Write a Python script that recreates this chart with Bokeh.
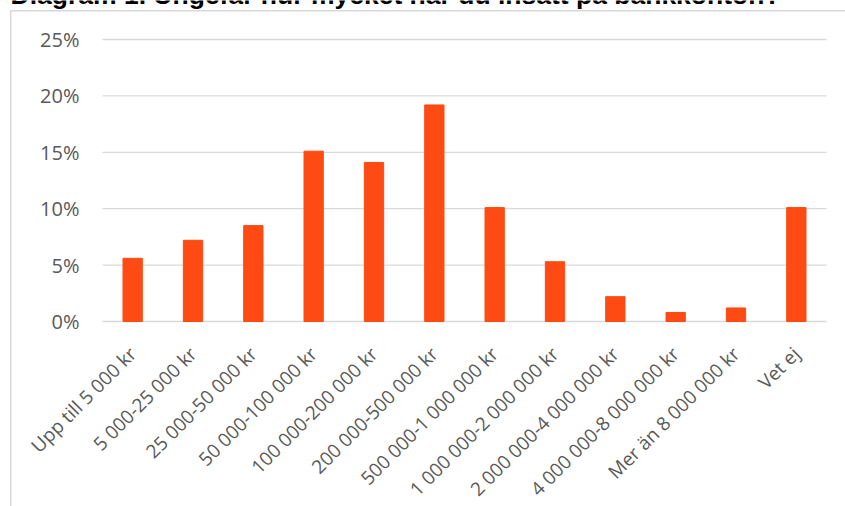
import math
from bokeh.plotting import figure
from bokeh.models import ColumnDataSource, FixedTicker, Label, Range1d
from bokeh.embed import file_html
from bokeh.resources import INLINE

title_text = "Diagram 1. Ungefär hur mycket har du insatt på bankkonton?"
categories = [
    "Upp till 5 000 kr",
    "5 000-25 000 kr",
    "25 000-50 000 kr",
    "50 000-100 000 kr",
    "100 000-200 000 kr",
    "200 000-500 000 kr",
    "500 000-1 000 000 kr",
    "1 000 000-2 000 000 kr",
    "2 000 000-4 000 000 kr",
    "4 000 000-8 000 000 kr",
    "Mer än 8 000 000 kr",
    "Vet ej",
]
shares = [5.6, 7.2, 8.5, 15.1, 14.1, 19.2, 10.1, 5.3, 2.2, 0.8, 1.2, 10.1]
y_ticks = [0, 5, 10, 15, 20, 25]
y_tick_labels = ["0%", "5%", "10%", "15%", "20%", "25%"]

BAR_COLOR = "#FD4B13"
GRID = "#D9D9D9"
LABEL = "#595959"

# layout (pixels): plot area of the chart inside the 845x506 canvas
W, H = 845, 506
TOP, LEFT, RIGHT = 39, 102, 19
ZERO_Y = 321

n = len(categories)
xs = list(range(n))
cw = (W - LEFT - RIGHT) / n                 # px per category
Y_MAX = y_ticks[-1]
ppu = (ZERO_Y - TOP) / Y_MAX                 # px per percentage point
x_lo, x_hi = -0.5 - LEFT / cw, n - 0.5 + RIGHT / cw
y_lo, y_hi = -(H - ZERO_Y) / ppu, Y_MAX + TOP / ppu

bars = ColumnDataSource(dict(x=xs, val=shares))
grid = ColumnDataSource(dict(y=y_ticks))

p = figure(
    x_range=Range1d(x_lo, x_hi),
    y_range=Range1d(y_lo, y_hi),
    width=W,
    height=H,
    output_backend="svg",
    toolbar_location=None,
    min_border=0,
)
p.title.visible = False
p.outline_line_color = None
p.background_fill_color = None
p.border_fill_color = None
p.xgrid.visible = False
p.ygrid.visible = False
# light grey chart-area border (left and top edges), as in the reference
p.styles = {
    "background": (
        "linear-gradient(#D9D9D9, #D9D9D9) 10px 10px / 1.5px 100% no-repeat, "
        "linear-gradient(#D9D9D9, #D9D9D9) 10px 10px / 100% 1.5px no-repeat, white"
    )
}

# horizontal gridlines across the plot area only
p.segment(x0=-0.5, x1=n - 0.5, y0="y", y1="y", source=grid,
          line_color=GRID, line_width=1.3)

p.vbar(x="x", top="val", bottom=0, width=0.32, source=bars, color=BAR_COLOR)

p.yaxis.fixed_location = -0.5
p.yaxis.bounds = (0, Y_MAX)
p.yaxis.ticker = FixedTicker(ticks=y_ticks)
p.yaxis.major_label_overrides = {t: l for t, l in zip(y_ticks, y_tick_labels)}
p.yaxis.axis_line_color = None
p.yaxis.major_tick_line_color = None
p.yaxis.minor_tick_line_color = None
p.yaxis.major_label_text_font = "Open Sans"
p.yaxis.major_label_text_font_size = "20px"
p.yaxis.major_label_text_color = LABEL
p.yaxis.major_label_standoff = 17

p.xaxis.fixed_location = 0
p.xaxis.bounds = (-0.5, n - 0.5)
p.xaxis.ticker = FixedTicker(ticks=xs)
p.xaxis.major_label_overrides = {i: c for i, c in zip(xs, categories)}
p.xaxis.axis_line_color = None
p.xaxis.major_tick_line_color = None
p.xaxis.minor_tick_line_color = None
p.xaxis.major_label_orientation = math.pi / 4
p.xaxis.major_label_text_font = "Open Sans"
p.xaxis.major_label_text_font_size = "19px"
p.xaxis.major_label_text_color = LABEL
p.xaxis.major_label_standoff = 23

# chart title, mostly cut off at the top edge, as in the reference
title = Label(
    x=10, y=H + 6, x_units="screen", y_units="screen", text=title_text,
    text_font="Liberation Sans", text_font_style="bold", text_font_size="26.5px",
    text_color="black", text_baseline="alphabetic",
)
p.add_layout(title)

open("out.html", "w").write(file_html(p, INLINE))
